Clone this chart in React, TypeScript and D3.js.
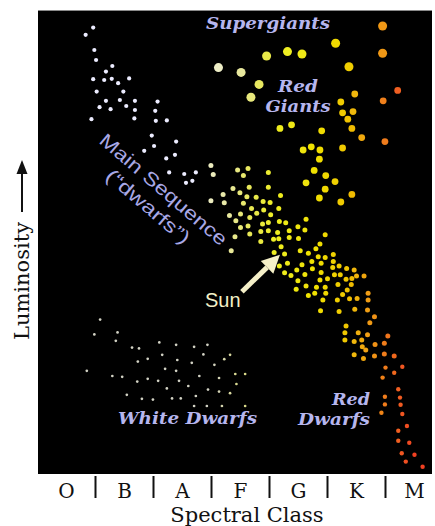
import React from 'react';
import * as d3 from 'd3';

// Spectral classes along the bottom axis
const spectralClasses = ['O', 'B', 'A', 'F', 'G', 'K', 'M'];

// All stars: [spectral subclass (O0 = 0 ... M9 = 69), relative luminosity (0 = faint, 116 = bright)]
const hotStars: [number, number][] = [
  [9.6, 111.6], [8.3, 109.8], [9.8, 106], [10.1, 103.5], [12.9, 102], [11.8, 100.6], [9.6, 98.7], [11.5, 98.5],
  [12.8, 98.8], [13.9, 97.7], [15.8, 98.9], [10.2, 95.6], [14.8, 95.6], [11.8, 93.3], [14.2, 93.5], [15.3, 92],
  [16.8, 93.3], [20.7, 93.1], [10.7, 91.7], [12.6, 91.2], [16.8, 91], [20.3, 90.8], [9.3, 88.7], [16.7, 88.9],
  [20.4, 88.3], [22.3, 88.4], [19.7, 84.6], [23.9, 83.1], [18.4, 80.8], [20.1, 82], [22.2, 78.9], [23.7, 79.8],
  [22.7, 75.4], [25.3, 75], [27.3, 75.4], [25.6, 72.8], [26.7, 73.3],
];

const mainSequence: [number, number][] = [
  [29.9, 77.1], [30.3, 74.9], [29.9, 68.3], [34.5, 76], [36.3, 76.4], [35.5, 74.6], [39.8, 75.4],
  [33.7, 71.4], [36.5, 71.7], [39.8, 71.7],
  [32.0, 69.9], [34.9, 70.3], [36.1, 69.3], [37.7, 69.2], [41.9, 69.6],
  [32.2, 67.8], [35.5, 67.7], [38.9, 68.1], [40.1, 67.9],
  [36.9, 66.4], [39.0, 66], [41.6, 66.4],
  [33.1, 64.6], [35.0, 65], [37.8, 65.2], [40.2, 64.8],
  [34.2, 63.3], [36.6, 64.1], [38.8, 62.5], [39.8, 62.9], [41.7, 63.1], [42.8, 62.8], [46.3, 63.7],
  [35.0, 61.6], [36.3, 62], [38.5, 60.6], [39.8, 60.8], [41.4, 60.4], [43.4, 60.8], [44.9, 61.8], [46.1, 61],
  [34.05, 59.3], [36.6, 60], [40.7, 58.7], [41.6, 58.8], [43.4, 59.1], [45.0, 58.9],
  [38.5, 58.1], [49.6, 59.8],
  [33.4, 55.8], [42.0, 56.8], [48.0, 56.3], [48.7, 57.5],
  [40.8, 55.4], [42.6, 55], [45.3, 55.8], [46.7, 55.2], [48.4, 54.3], [49.6, 54.1], [51.0, 54.9],
  [41.7, 52], [43.1, 52.7], [45.6, 52.3], [47.3, 53.1], [48.9, 52.7], [51.0, 53.1],
  [42.6, 50.3], [43.7, 49.6], [44.7, 51], [46.1, 49.9], [47.4, 51.3], [48.9, 50.4], [50.9, 51.6], [52.0, 52],
  [53.3, 51.4], [54.6, 51],
  [51.2, 49.8], [52.2, 49.8], [53.2, 48.7], [54.2, 48.9], [55.0, 49.5], [56.3, 49.5],
  [44.9, 48.3], [48.7, 48.5], [50.0, 48.8], [51.8, 47.4], [54.1, 47.4],
  [44.6, 46.2], [46.3, 47], [48.1, 46.7], [49.6, 46.7], [53.4, 46], [57.0, 45.2],
  [46.7, 44.6], [47.8, 45.2], [49.7, 45.2], [52.6, 44.9],
  [49.2, 43.5], [51.7, 43.5], [53.8, 43.8], [55.1, 43.9], [57.0, 43.5],
  [48.8, 40.8], [52.0, 40.6], [54.7, 41.2], [56.9, 41],
  [58.1, 39.3], [57.3, 37.8],
  [53.2, 37], [53.0, 35.3], [55.3, 35.3], [56.9, 34.8], [60.4, 34.5],
  [53.0, 33.5], [54.6, 33.1], [55.9, 33.5], [56.0, 31.8], [58.2, 32.4], [59.8, 32.7],
  [56.6, 31], [54.6, 29.8], [56.2, 28.9], [58.1, 29.5], [59.8, 30], [61.5, 29.5],
];

const redDwarfs: [number, number][] = [
  [62.9, 26.8], [60.0, 26.6], [61.5, 25.3], [59.5, 24.1],
  [62.2, 21.2], [59.9, 19.3], [62.5, 19.1], [59.9, 17.4], [62.6, 17.3], [59.3, 15.3], [62.9, 15],
  [63.7, 12], [62.2, 10.8], [62.2, 8.3], [64.1, 7.8], [62.8, 5.2], [65.0, 4.8], [63.5, 3.1], [66.4, 1.8],
];

const redGiants: [number, number][] = [
  [62.1, 95.9], [59.6, 93.3], [59.9, 83.1], [54.7, 95], [52.3, 93], [52.6, 90.3], [54.4, 90.6], [53.5, 88.7],
  [54.2, 86.4], [55.9, 84.1], [41.8, 86.4], [43.8, 87.3], [49.0, 85.8], [45.8, 81], [47.2, 81.8], [48.7, 81],
  [52.6, 81.5], [48.6, 78.7], [47.7, 75.9], [49.7, 74.6], [46.3, 72.8], [51.3, 73.1], [49.6, 71.2], [48.6, 69],
  [52.3, 68], [54.2, 69.9],
];

const supergiants: [number, number][] = [
  [59.5, 112], [59.5, 105.2], [51.4, 107.7], [39.5, 104.5], [43.1, 105.6], [45.6, 105],
  [31.2, 101.6], [35.1, 100.4], [38.2, 97.4], [36.8, 94.2], [53.7, 101.8],
];

const whiteDwarfs: [number, number][] = [
  [10.8, 38.6], [9.8, 34.9], [13.8, 35.4], [13.5, 33.3], [8.5, 25.8],
  [16.3, 31.6], [17.5, 31.4], [21.0, 32.9], [23.9, 32.3], [27.0, 31.8], [29.3, 32.3],
  [17.3, 28.1], [19.0, 28.8], [21.5, 29.8], [24.1, 28.5], [26.6, 27.8], [28.6, 29.9], [30.5, 27.3], [32.2, 28.7], [33.2, 29.8],
  [22.0, 26.3], [23.9, 25.8],
  [12.9, 24.5], [14.6, 24.3], [17.2, 23.1], [19.0, 23.8], [20.8, 23.3], [24.4, 23.3], [27.9, 24.5], [31.3, 24],
  [34.1, 25], [35.8, 25], [34.3, 22.5],
  [22.3, 21.4], [26.0, 22], [29.4, 21.1], [31.3, 20.6], [33.2, 20.2],
  [15.4, 19.8], [18.0, 18.8], [19.9, 18.6], [23.2, 18.9], [24.7, 18.9], [27.3, 19.5],
  [27.0, 17], [29.2, 17], [31.8, 17], [35.8, 17],
];

// The Sun: G2
const sun: [number, number] = [41.8, 54.8];

const W = 435;
const H = 526;
const P = { left: 38, right: 432, top: 10, bottom: 474 };

const x = d3.scaleLinear().domain([0, 70]).range([37.5, 443.5]);
const y = d3.scaleLinear().domain([0, 116]).range([P.bottom, P.top]);

const starColor = d3
  .scaleLinear<string>()
  .domain([22, 28, 33, 37, 41, 48, 53, 56, 59, 62, 65])
  .range(['#ececff', '#eeeed2', '#e8e8a0', '#e8e850', '#eeee22', '#f0e000', '#f0c800', '#f0a810', '#f08818', '#f06020', '#f04020'])
  .clamp(true);

const wdColor = d3.scaleLinear<string>().domain([30, 35]).range(['#d2d2c4', '#dada8a']).clamp(true);

const serif = "'DejaVu Serif', serif";
const sans = "'Liberation Sans', Arial, sans-serif";
const labelColor = '#b6b6ee';

function Dots({ data, r, fill }: { data: [number, number][]; r: number; fill: (d: [number, number]) => string }) {
  return (
    <g>
      {data.map((d, i) => (
        <circle key={i} cx={x(d[0])} cy={y(d[1])} r={r} fill={fill(d)} />
      ))}
    </g>
  );
}

export default function App() {
  // Sun arrow geometry
  const tip = [x(sun[0]), y(sun[1])];
  const tail = [tip[0] - 38, tip[1] + 37];
  const len = Math.hypot(tip[0] - tail[0], tip[1] - tail[1]);
  const u = [(tip[0] - tail[0]) / len, (tip[1] - tail[1]) / len];
  const nrm = [-u[1], u[0]];
  const headL = 18;
  const headW = 9;
  const base = [tip[0] - headL * u[0], tip[1] - headL * u[1]];
  const head = [
    tip,
    [base[0] + headW * nrm[0], base[1] + headW * nrm[1]],
    [base[0] - headW * nrm[0], base[1] - headW * nrm[1]],
  ]
    .map((p) => p.join(','))
    .join(' ');

  const classBoundaries = d3.range(1, spectralClasses.length);

  return (
    <svg width={W} height={H} style={{ position: 'absolute', left: 0, top: 0 }}>
      <defs>
        <clipPath id="plotClip">
          <rect x={P.left} y={P.top} width={P.right - P.left} height={P.bottom - P.top} />
        </clipPath>
        <filter id="soft" x="-50%" y="-50%" width="200%" height="200%">
          <feGaussianBlur stdDeviation="0.45" />
        </filter>
      </defs>
      <rect x={0} y={0} width={W} height={H} fill="#ffffff" />
      <rect x={P.left} y={P.top} width={P.right - P.left} height={P.bottom - P.top} fill="#000000" />
      <line x1={P.left} x2={P.right} y1={P.top + 0.5} y2={P.top + 0.5} stroke="#8a8a8a" strokeWidth={1.2} />

      <g clipPath="url(#plotClip)" filter="url(#soft)">
        <Dots data={whiteDwarfs} r={1.35} fill={(d) => wdColor(d[0])} />
        <Dots data={hotStars} r={2.1} fill={() => '#ececff'} />
        <Dots data={mainSequence} r={2.5} fill={(d) => starColor(d[0])} />
        <Dots data={redDwarfs} r={2.2} fill={(d) => starColor(d[0])} />
        <Dots data={redGiants} r={3.4} fill={(d) => starColor(d[0])} />
        <Dots data={supergiants} r={4.5} fill={(d) => starColor(d[0] - 2)} />
      </g>

      {/* Sun arrow */}
      <line x1={tail[0]} y1={tail[1]} x2={base[0]} y2={base[1]} stroke="#f5f0c8" strokeWidth={5} />
      <polygon points={head} fill="#f5f0c8" />
      <text x={205} y={307} fontFamily={sans} fontSize={20} fill="#f2efc6">Sun</text>

      {/* Region labels */}
      <g fontFamily={serif} fontWeight="bold" fontStyle="italic" fill={labelColor}>
        <text x={206} y={29} fontSize={17} textLength={124} lengthAdjust="spacingAndGlyphs">Supergiants</text>
        <text x={298} y={92} fontSize={16} textAnchor="middle" textLength={40} lengthAdjust="spacingAndGlyphs">Red</text>
        <text x={298} y={112} fontSize={16} textAnchor="middle" textLength={65} lengthAdjust="spacingAndGlyphs">Giants</text>
        <text x={118} y={424} fontSize={17} textLength={139} lengthAdjust="spacingAndGlyphs">White Dwarfs</text>
        <text x={370} y={405} fontSize={16} textAnchor="end" textLength={38} lengthAdjust="spacingAndGlyphs">Red</text>
        <text x={370} y={425} fontSize={16} textAnchor="end" textLength={72} lengthAdjust="spacingAndGlyphs">Dwarfs</text>
      </g>
      <g fontFamily={sans} fill="#a8a8e6" fontSize={19}>
        <text
          transform="translate(163.5,189.5) rotate(40.5)"
          textAnchor="middle"
          dominantBaseline="central"
          textLength={161}
          lengthAdjust="spacingAndGlyphs"
        >
          Main Sequence
        </text>
        <text
          transform="translate(148,206.5) rotate(40.5)"
          textAnchor="middle"
          dominantBaseline="central"
          textLength={104}
          lengthAdjust="spacingAndGlyphs"
        >
          (“dwarfs”)
        </text>
      </g>

      {/* Bottom axis */}
      {classBoundaries.map((i) => (
        <line key={i} x1={x(i * 10)} x2={x(i * 10)} y1={P.bottom + 2} y2={P.bottom + 24} stroke="#111" strokeWidth={2} />
      ))}
      {spectralClasses.map((c, i) => (
        <text key={c} x={x(i * 10 + 5)} y={498} textAnchor="middle" fontFamily={serif} fontSize={20} fill="#111">
          {c}
        </text>
      ))}
      <text x={247} y={522} textAnchor="middle" fontFamily={serif} fontSize={21} fill="#111">
        Spectral Class
      </text>

      {/* Left axis */}
      <text
        transform="translate(29,281) rotate(-90)"
        textAnchor="middle"
        fontFamily={serif}
        fontSize={21}
        fill="#111"
      >
        Luminosity
      </text>
      <line x1={22} x2={22} y1={212} y2={172} stroke="#111" strokeWidth={2} />
      <polygon points="22,160 16.5,174 27.5,174" fill="#111" />
    </svg>
  );
}
